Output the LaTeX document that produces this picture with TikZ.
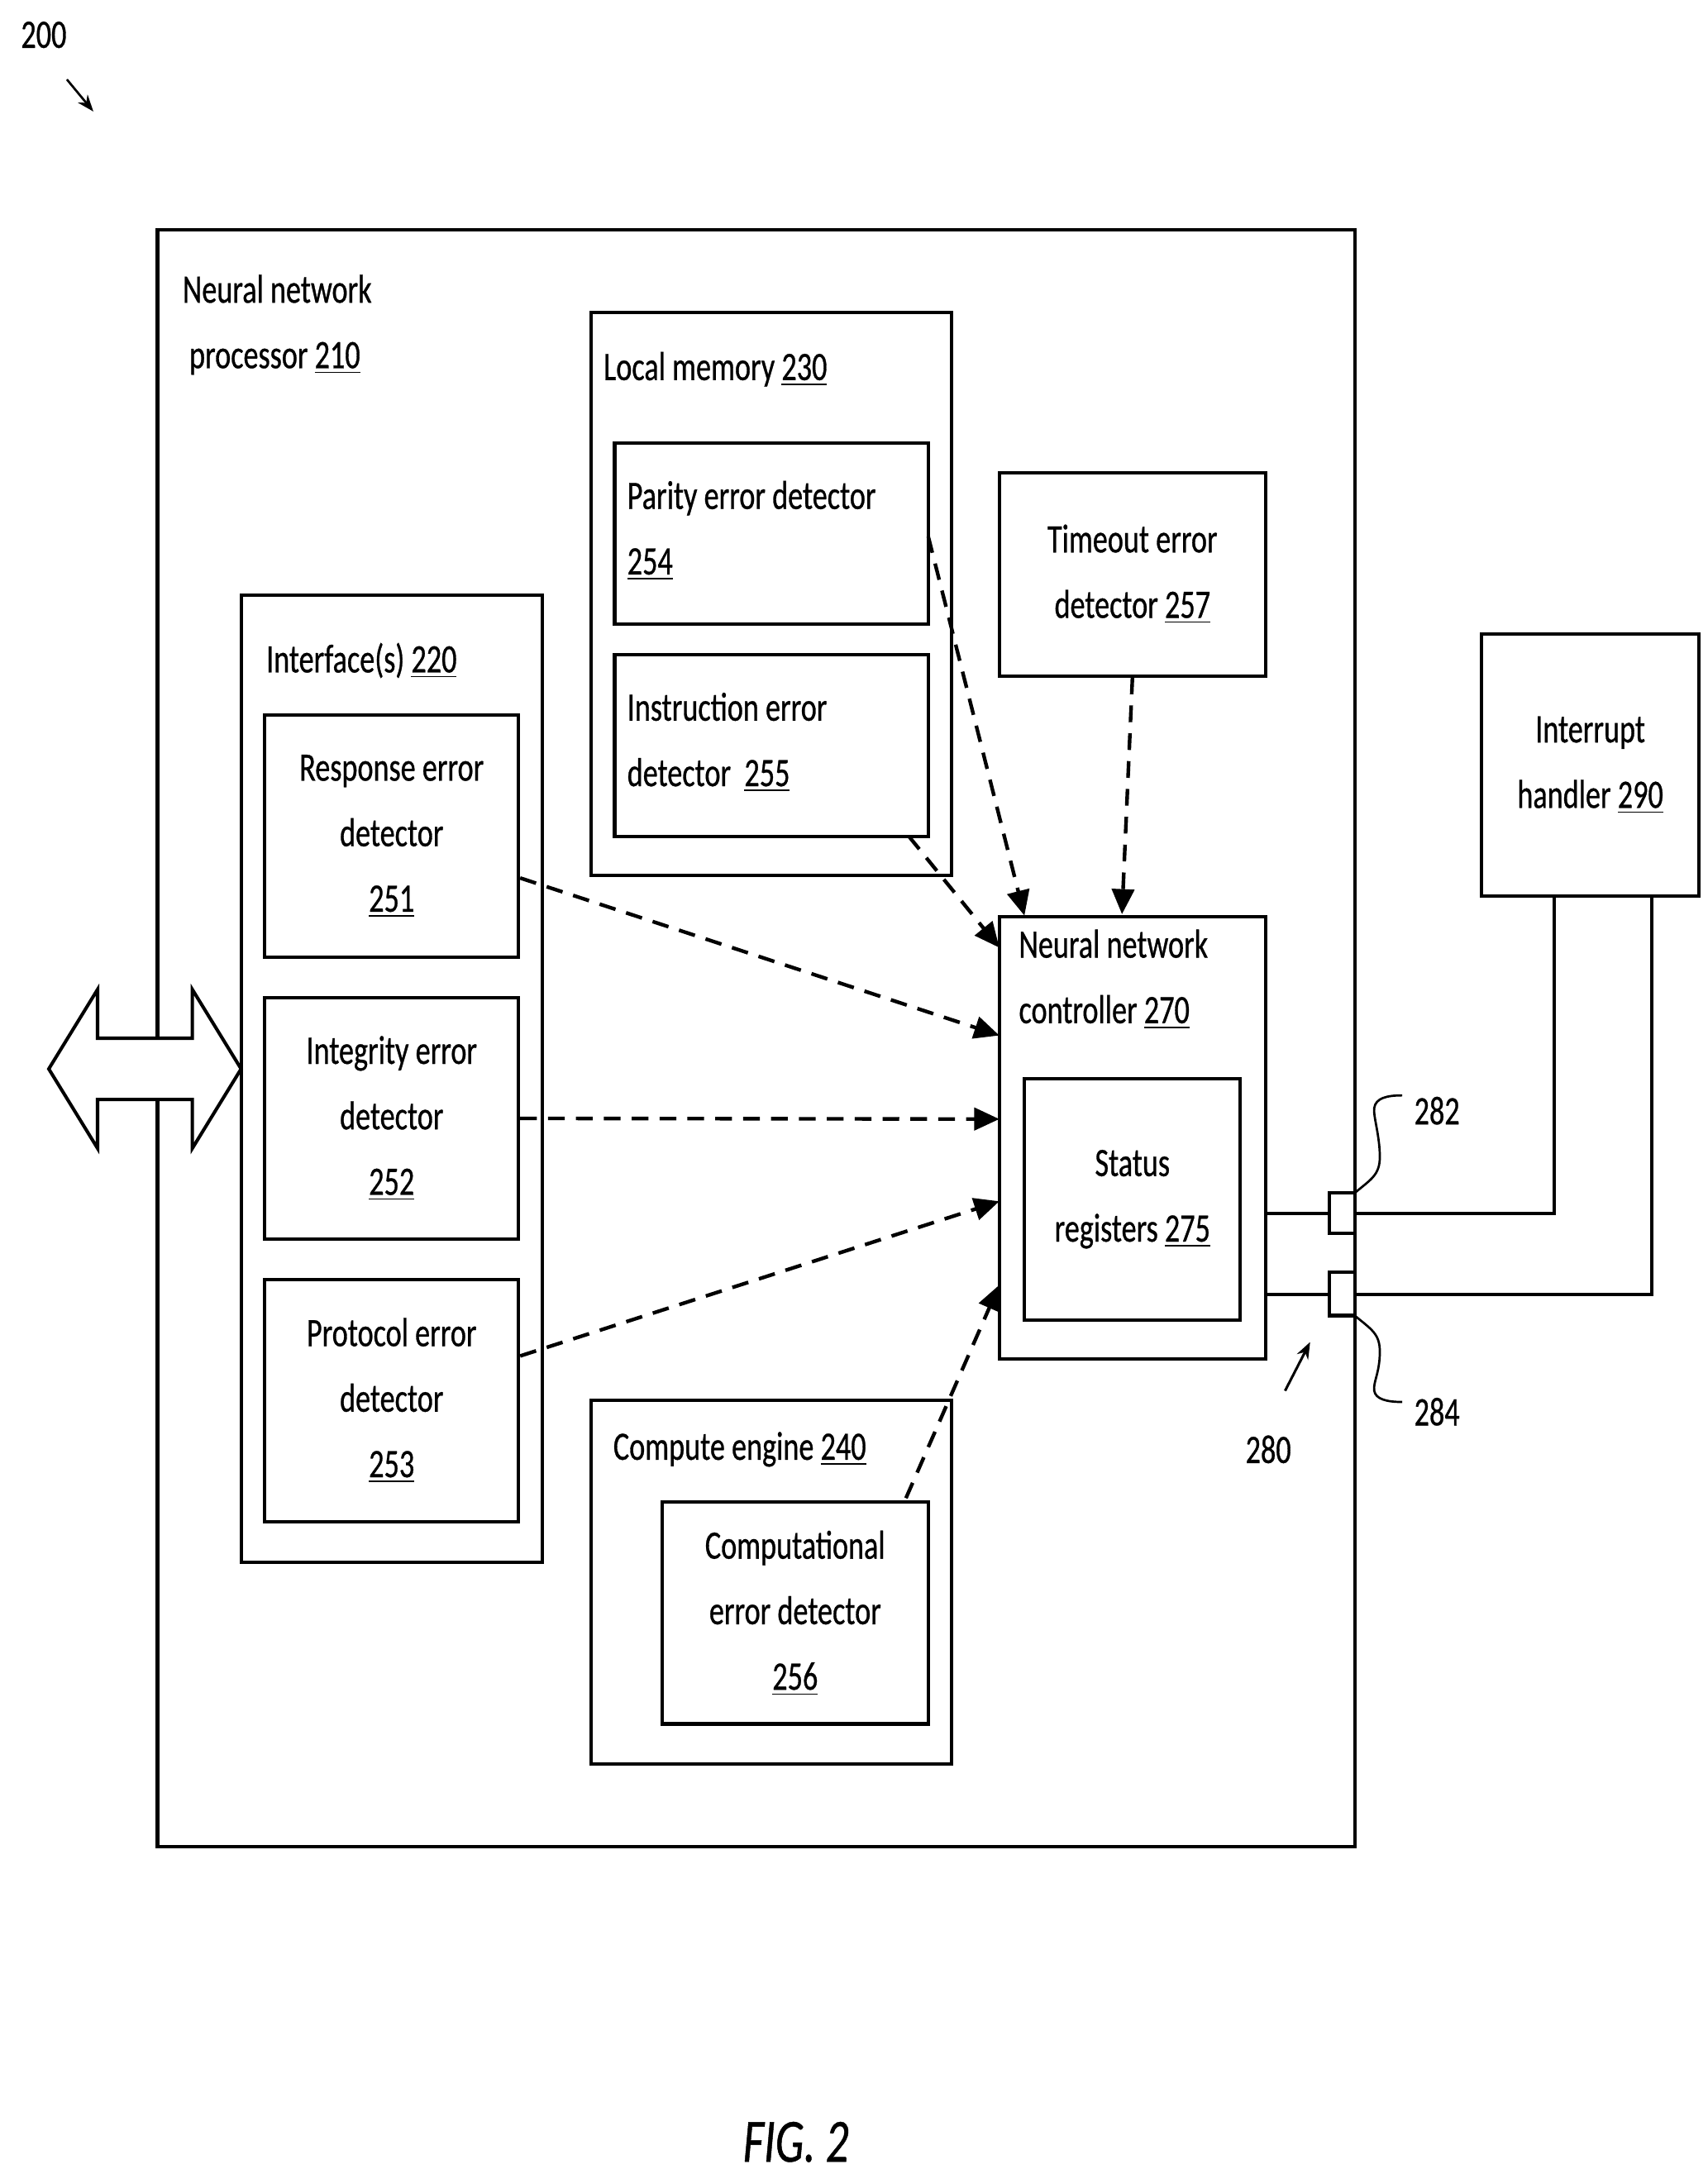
\documentclass[tikz,border=0pt]{standalone}
\usepackage{fontspec}
\setmainfont{Carlito}[FakeStretch=0.74,FakeBold=0.6]
\usetikzlibrary{arrows.meta}
\begin{document}
\begin{tikzpicture}[x=0.5pt,y=-0.5pt,
  every node/.style={font=\fontsize{14.5}{23.5}\selectfont},
  box/.style={draw,line width=1.2pt},
  dasharr/.style={line width=1.3pt,dash pattern=on 6pt off 4pt,-{Triangle[length=9pt,width=8pt]}},
  wire/.style={line width=1.2pt}]
\useasboundingbox (0,0) rectangle (1225,1560);
\node[anchor=west] (l200) at (8,25) {200};
\coordinate (a200s) at (48,57); \coordinate (a200e) at (67,80);
\draw[line width=0.8pt,-{Stealth[length=6pt]}] (a200s) -- (a200e);
% outer
\draw[box] (113,165) rectangle (972,1325);
\node[anchor=north west,align=left] (t210) at (124,190) {Neural network\\ \,processor \underline{210}};
% interface
\draw[box] (173,427) rectangle (389,1121);
\node[anchor=west] (t220) at (184,474) {Interface(s) \underline{220}};
\node[box,minimum width=91pt,minimum height=87pt,align=center] (n251) at (281,600) {Response error\\detector\\\underline{251}};
\node[box,minimum width=91pt,minimum height=86.5pt,align=center] (n252) at (281,802.5) {Integrity error\\detector\\\underline{252}};
\node[box,minimum width=91pt,minimum height=87pt,align=center] (n253) at (281,1005) {Protocol error\\detector\\\underline{253}};
% local memory
\draw[box] (424,224) rectangle (683,628);
\node[anchor=west] (t230) at (426,265) {Local memory \underline{230}};
\draw[box] (441,318) rectangle (666,448);
\node[anchor=north west,align=left] (n254) at (443,338) {Parity error detector\\\underline{254}};
\draw[box] (441,470) rectangle (666,600);
\node[anchor=north west,align=left] (n255) at (443,490) {Instruction error\\detector~ \underline{255}};
% timeout
\node[box,minimum width=95.5pt,minimum height=73pt,align=center] (n257) at (812.5,412) {Timeout error\\detector \underline{257}};
% controller
\draw[box] (717,658) rectangle (908,975);
\node[anchor=north west,align=left] (t270) at (724,660) {Neural network\\controller \underline{270}};
\node[box,minimum width=77.5pt,minimum height=86.5pt,align=center] (n275) at (812.5,860.5) {Status\\registers \underline{275}};
% compute
\draw[box] (424,1005) rectangle (683,1266);
\node[anchor=west] (t240) at (433,1040) {Compute engine \underline{240}};
\node[box,minimum width=95.5pt,minimum height=79.5pt,align=center] (n256) at (570.5,1157.5) {Computational\\error detector\\\underline{256}};
% interrupt
\node[box,minimum width=78pt,minimum height=94pt,align=center] (n290) at (1141,549) {Interrupt\\handler \underline{290}};
% double arrow
\draw[line width=1.2pt,fill=white] (35,767) -- (70,710) -- (70,745) -- (138,745) -- (138,710) -- (173,767) -- (138,824) -- (138,789) -- (70,789) -- (70,824) -- cycle;
% dashed connectors
\coordinate (c1) at (717,743); \coordinate (c2) at (717,803); \coordinate (c3) at (717,862);
\draw[dasharr] (n251.east |- 0,630) -- (c1);
\draw[dasharr] (n252.east) -- (c2);
\draw[dasharr] (n253.east |- 0,973) -- (c3);
\draw[dasharr] (666,385) -- (735,657);
\draw[dasharr] (652,600) -- (717,680);
\draw[dasharr] (n257.south) -- (805,656);
\draw[dasharr] (650,1075) -- (717,922);
% wires
\draw[wire] (908,871) -- (1115,871) -- (1115,643);
\draw[wire] (908,929) -- (1185,929) -- (1185,643);
\draw[wire,fill=white] (954,856) rectangle (972,885);
\draw[wire,fill=white] (954,913) rectangle (972,944);
\draw[line width=1.2pt] (972,856) -- (972,944);
\node (t282) at (1031,797) {282};
\node (t284) at (1031,1013) {284};
\draw[line width=0.8pt] (972,856) .. controls (984,846) and (990,843) .. (990,830) .. controls (990,815) and (985,800) .. (986,795) .. controls (987,788) and (995,786) .. (1006,786);
\draw[line width=0.8pt] (972,944) .. controls (984,954) and (990,957) .. (990,970) .. controls (990,985) and (985,992) .. (986,998) .. controls (987,1004) and (995,1006) .. (1006,1006);
\node (t280) at (910,1040) {280};
\draw[line width=0.9pt,-{Stealth[length=6pt]}] (922,998) -- (940,963);
\node[font=\fontsize{22}{26}\selectfont\itshape] (fig) at (571,1537) {FIG. 2};
\end{tikzpicture}
\end{document}
